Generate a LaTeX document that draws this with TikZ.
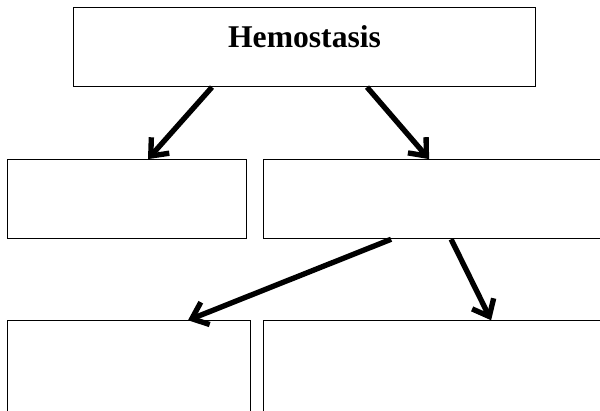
\documentclass[tikz,border=0pt]{standalone}
\usepackage{fontspec}
\setmainfont{Liberation Serif}
\usetikzlibrary{positioning,arrows.meta}
\tikzstyle{topbox}=[rectangle, draw=black, line width=0.8pt, fill=white, inner sep=0pt, minimum width=11.55cm, text height=1cm, text depth=0.975cm, font=\fontsize{22.5}{26}\selectfont\bfseries]
\tikzstyle{sbox}=[rectangle, draw=black, line width=0.8pt, fill=white, inner sep=0pt, minimum height=1.975cm, minimum width=5.975cm]
\tikzstyle{line}=[-{Straight Barb[length=3.6mm, width=6mm]}, line width=3.8pt, black]

\begin{document}
\begin{tikzpicture}[node distance=0mm]

    \node (hemo) [topbox] at (0,0) {Hemostasis};
    \useasboundingbox ([shift={(-1.825,0.175)}]hemo.north west) rectangle ++(15,-10.275);

% second row
    \node (left2) [sbox, below=1.8cm of hemo.south west, anchor=north west, xshift=-1.65cm] {};
    \node (right2) [sbox, right=0.4cm of left2, minimum width=8.95cm] {};

% third row
    \node (left3) [sbox, below=2.025cm of left2.south west, anchor=north west, minimum width=6.075cm, minimum height=2.8cm] {};
    \node (right3) [sbox, right=0.3cm of left3, minimum width=8.95cm, minimum height=2.8cm] {};

   \draw[line] ([xshift=3.475cm]hemo.south west) -- ([xshift=3.525cm]left2.north west);
   \draw[line] ([xshift=7.35cm]hemo.south west) -- ([xshift=4.15cm]right2.north west);

   \draw[line] ([xshift=3.2cm]right2.south west) -- ([xshift=4.525cm]left3.north west);
   \draw[line] ([xshift=4.7cm]right2.south west) -- ([xshift=5.7cm]right3.north west);

\end{tikzpicture}
\end{document}
